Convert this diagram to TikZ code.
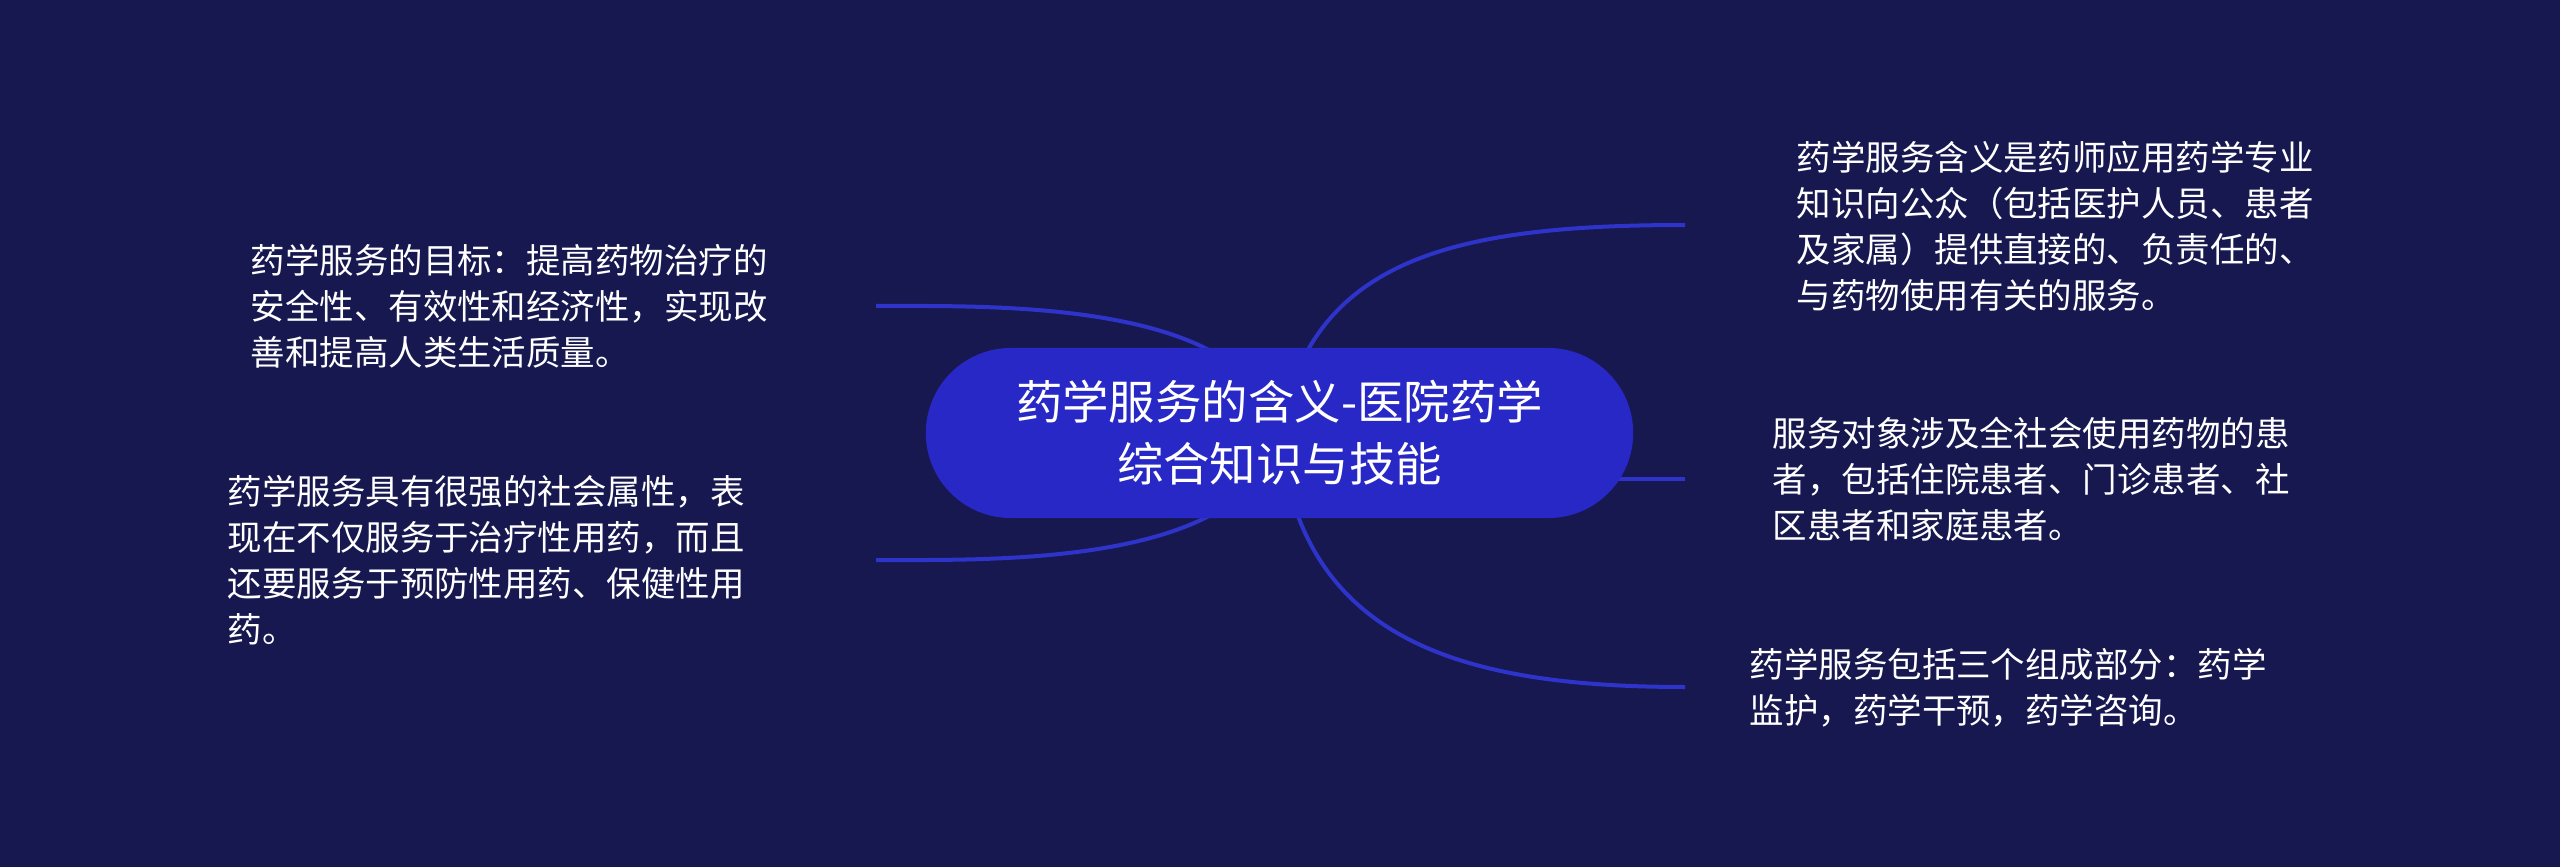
\documentclass[tikz,border=0pt]{standalone}
\usepackage{fontspec}
\setmainfont{Noto Sans CJK SC}
\usetikzlibrary{calc}
\definecolor{bgc}{HTML}{171850}
\definecolor{nodec}{HTML}{2828C6}
\definecolor{linec}{HTML}{2E33C9}
\pgfdeclarelayer{bglayer}
\pgfdeclarelayer{edges}
\pgfsetlayers{bglayer,edges,main}
\begin{document}
\begin{tikzpicture}[x=0.01cm,y=-0.01cm,
  rootbox/.style={fill=nodec, rounded corners=0.85cm, minimum width=7.07cm, minimum height=1.7cm, inner sep=0pt, text=white, align=center, font=\fontsize{13.2pt}{17.6pt}\selectfont},
  leaf/.style={anchor=west, inner sep=0pt, text=white, align=left, font=\fontsize{9.8pt}{13.1pt}\selectfont},
  conn/.style={draw=linec, line width=0.04cm}]
\begin{pgfonlayer}{bglayer}
\fill[bgc] (0,0) rectangle (2560,867);
\end{pgfonlayer}
\useasboundingbox (0,0) rectangle (2560,867);

\node[rootbox] (root) at (1279.5,433) {药学服务的含义-医院药学\\综合知识与技能};

\coordinate (rt) at (1685,225);
\coordinate (rm) at (1685,479);
\coordinate (rb) at (1685,687);
\coordinate (lt) at (876,306);
\coordinate (lb) at (876,560);

\node[leaf] (trt) at (1796,226) {药学服务含义是药师应用药学专业\\知识向公众（包括医护人员、患者\\及家属）提供直接的、负责任的、\\与药物使用有关的服务。};
\node[leaf] (trm) at (1772,479) {服务对象涉及全社会使用药物的患\\者，包括住院患者、门诊患者、社\\区患者和家庭患者。};
\node[leaf] (trb) at (1749,688) {药学服务包括三个组成部分：药学\\监护，药学干预，药学咨询。};
\node[leaf] (tlt) at (250,306) {药学服务的目标：提高药物治疗的\\安全性、有效性和经济性，实现改\\善和提高人类生活质量。};
\node[leaf] (tlb) at (227,560) {药学服务具有很强的社会属性，表\\现在不仅服务于治疗性用药，而且\\还要服务于预防性用药、保健性用\\药。};

\begin{pgfonlayer}{edges}
\draw[conn] (root.center) .. controls (1310,260) and (1450,225) .. (rt);
\draw[conn] (root.center |- rm) -- (rm);
\draw[conn] (root.center) .. controls (1300,640) and (1460,687) .. (rb);
\draw[conn] (root.center) .. controls (1250,300) and (1000,306) .. (lt);
\draw[conn] (root.center) .. controls (1250,566) and (1000,560) .. (lb);
\end{pgfonlayer}
\end{tikzpicture}
\end{document}
